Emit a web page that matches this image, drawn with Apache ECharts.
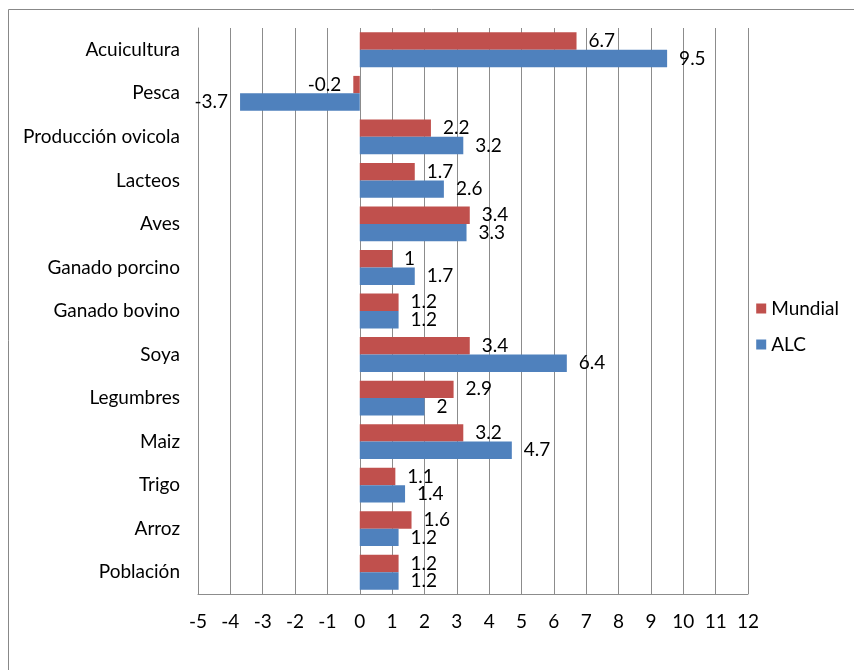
<!DOCTYPE html>
<html>
<head>
<meta charset="utf-8">
<script src="https://cdn.jsdelivr.net/npm/echarts@6/dist/echarts.min.js"></script>
<style>
  html, body { margin: 0; padding: 0; background: #fff; }
  #chart { width: 854px; height: 670px; }
</style>
</head>
<body>
<div id="chart"></div>
<script>
// categories bottom to top
const categories = ['Población', 'Arroz', 'Trigo', 'Maiz', 'Legumbres', 'Soya', 'Ganado bovino',
  'Ganado porcino', 'Aves', 'Lacteos', 'Producción ovicola', 'Pesca', 'Acuicultura'];
const mundial = [1.2, 1.6, 1.1, 3.2, 2.9, 3.4, 1.2, 1, 3.4, 1.7, 2.2, -0.2, 6.7];
const alc = [1.2, 1.2, 1.4, 4.7, 2, 6.4, 1.2, 1.7, 3.3, 2.6, 3.2, -3.7, 9.5];

const FONT = 'Lato';
const FS = 19;
const gridColor = '#8c8c8c';

// negative bars get their label on the left side
function withLabels(values) {
  return values.map(v => ({
    value: v,
    label: { position: v < 0 ? 'left' : 'right' }
  }));
}

const chart = echarts.init(document.getElementById('chart'));
chart.setOption({
  animation: false,
  textStyle: { fontFamily: FONT },
  graphic: [{
    type: 'rect',
    shape: { x: 8.5, y: 9.5, width: 900, height: 700 },
    style: { fill: 'none', stroke: '#888', lineWidth: 1 },
    silent: true
  }],
  grid: { left: 198, right: 106, top: 28, bottom: 76 },
  legend: {
    orient: 'vertical',
    right: 10,
    top: 294,
    itemWidth: 10,
    itemHeight: 10,
    itemGap: 17,
    icon: 'rect',
    textStyle: { fontFamily: FONT, fontSize: FS, color: '#000' },
    data: ['Mundial', 'ALC']
  },
  xAxis: {
    type: 'value',
    min: -5,
    max: 12,
    interval: 1,
    axisLine: { show: true, onZero: false, lineStyle: { color: gridColor } },
    axisTick: { show: false },
    axisLabel: { fontFamily: FONT, fontSize: FS, color: '#000', margin: 18 },
    splitLine: { show: true, lineStyle: { color: gridColor, type: 'solid' } }
  },
  yAxis: {
    type: 'category',
    data: categories,
    axisLine: { show: true, onZero: false, lineStyle: { color: gridColor } },
    axisTick: { show: false },
    axisLabel: { fontFamily: FONT, fontSize: FS, color: '#000', margin: 18 },
    splitLine: { show: false }
  },
  series: [
    {
      name: 'Mundial',
      type: 'bar',
      data: withLabels(mundial),
      itemStyle: { color: '#C0504D' },
      barGap: '0%',
      barCategoryGap: '20%',
      label: { show: true, distance: 12, fontFamily: FONT, fontSize: FS, color: '#000' }
    },
    {
      name: 'ALC',
      type: 'bar',
      data: withLabels(alc),
      itemStyle: { color: '#4F81BD' },
      barGap: '0%',
      barCategoryGap: '20%',
      label: { show: true, distance: 12, fontFamily: FONT, fontSize: FS, color: '#000' }
    }
  ]
});
</script>
</body>
</html>
